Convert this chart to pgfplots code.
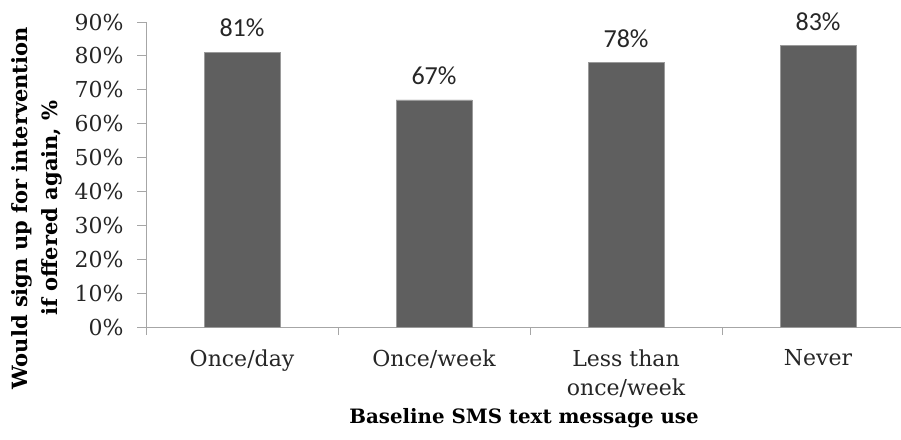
\documentclass[border=0pt]{standalone}
\usepackage{pgfplots}
\pgfplotsset{compat=1.18}
\usepackage{fontspec}
\setmainfont{DejaVu Serif}
\newfontfamily\labelfont{Carlito}
\definecolor{barfill}{HTML}{5F5F5F}
\definecolor{baredge}{HTML}{9A9A9A}
\definecolor{axisgray}{HTML}{A6A6A6}
\definecolor{txt}{HTML}{262626}

\begin{document}
\begin{tikzpicture}
\begin{axis}[
  at={(146pt,112pt)}, anchor=south west,
  scale only axis, width=755pt, height=305pt,
  xmin=-0.5, xmax=3.432, ymin=0, ymax=90,
  axis x line*=bottom, axis y line*=left,
  axis line style={draw=axisgray, line width=1pt, -},
  ytick={0,10,...,90},
  yticklabel={\pgfmathprintnumber{\tick}\%},
  xtick={0,1,2,3},
  xticklabels={Once/day, Once/week, {Less than\\once/week}, Never},
  minor xtick={-0.5,0.5,1.5,2.5},
  tick align=outside, major tick length=9pt, minor tick length=8pt,
  tick style={draw=axisgray, line width=1pt},
  major x tick style={draw=none},
  ticklabel style={font=\fontsize{22}{29}\selectfont, text=txt},
  yticklabel style={/pgf/number format/assume math mode=true, xshift=-10pt},
  xticklabel style={align=center, yshift=-10pt},
  ylabel={Would sign up for intervention\\if offered again, \%},
  ylabel style={at={(axis description cs:-0.1444,0.39)}, anchor=center,
    align=center, font=\bfseries\fontsize{21}{30}\selectfont},
  xlabel={Baseline SMS text message use},
  xlabel style={at={(axis description cs:0.5007,-0.315)}, anchor=base,
    font=\bfseries\fontsize{19.8}{24}\selectfont},
  clip=false,
  ybar, bar width=76pt,
  nodes near coords={\pgfmathprintnumber[assume math mode=true]{\pgfplotspointmeta}\%},
  nodes near coords style={font=\labelfont\fontsize{26}{30}\selectfont,
    text=txt, anchor=south, inner sep=0pt, yshift=15pt},
]
\addplot[fill=barfill, draw=baredge, line width=0.8pt]
  coordinates {(0,81) (1,67) (2,78) (3,83)};
\end{axis}
\pgfresetboundingbox
\useasboundingbox (0,0) rectangle (901pt,439pt);
\end{tikzpicture}
\end{document}
